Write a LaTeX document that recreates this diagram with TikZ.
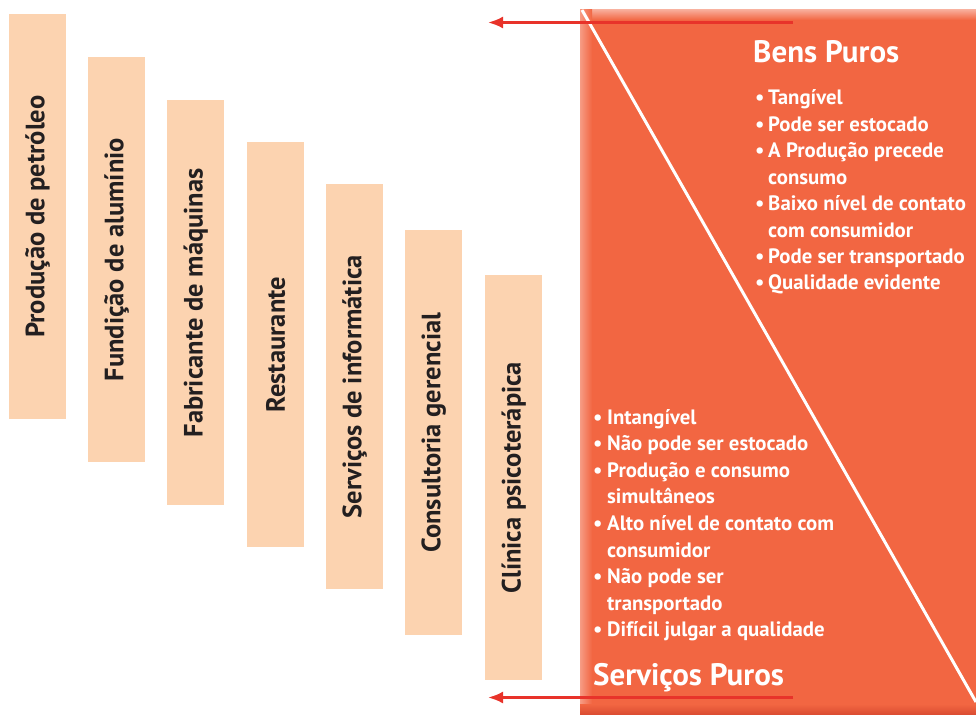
\documentclass[tikz,border=0pt]{standalone}
\usepackage{fontspec}
\setmainfont{PT Sans}
\usetikzlibrary{arrows.meta}
\definecolor{barfill}{HTML}{FCD3B0}
\definecolor{org}{HTML}{F26642}
\definecolor{arr}{HTML}{E8332A}
\definecolor{txt}{HTML}{231F20}
\tikzset{
  barbox/.style={fill=barfill, draw=none, inner sep=0pt, minimum width=57pt, minimum height=405pt, anchor=north west},
  barlabel/.style={rotate=90, text=txt, font=\bfseries\fontsize{26.5}{26.5}\selectfont, inner sep=0pt},
  arrowline/.style={draw=arr, line width=2.6pt, -{Latex[length=15pt,width=12pt]}},
  title/.style={anchor=base west, text=white, inner sep=0pt, font=\bfseries\fontsize{31}{31}\selectfont},
  item/.style={anchor=base west, text=white, inner sep=0pt, font=\bfseries\fontsize{20.8}{20.8}\selectfont},
}
\begin{document}
\begin{tikzpicture}[x=1pt,y=-1pt]
\useasboundingbox (0,0) rectangle (976,714);
% bars
\node[barbox] (b1) at (9,14) {};
\node[barbox] (b2) at (88,57) {};
\node[barbox] (b3) at (167,100) {};
\node[barbox] (b4) at (247,142) {};
\node[barbox] (b5) at (326,184) {};
\node[barbox] (b6) at (405,230) {};
\node[barbox] (b7) at (485,275) {};
\node[barlabel] (l1) at (b1.center) {Produção de petróleo};
\node[barlabel] (l2) at (b2.center) {Fundição de alumínio};
\node[barlabel] (l3) at (b3.center) {Fabricante de máquinas};
\node[barlabel] (l4) at (b4.center) {Restaurante};
\node[barlabel] (l5) at (b5.center) {Serviços de informática};
\node[barlabel] (l6) at (b6.center) {Consultoria gerencial};
\node[barlabel] (l7) at (b7.center) {Clínica psicoterápica};
% orange panel
\fill[org] (580,10) rectangle (976,714);
\shade[top color=org!55!white, bottom color=org] (580,10) rectangle (976,20);
\shade[left color=org!65!white, right color=org] (580,10) rectangle (592,714);
\shade[top color=org, bottom color=org!85!red!90!black] (580,704) rectangle (976,714);
\draw[white, line width=3pt] (582,10) -- (976,702);
% arrows
\coordinate (a1s) at (793,22.5);
\coordinate (a1e) at (488,22.5);
\coordinate (a2s) at (793,697.5);
\coordinate (a2e) at (488,697.5);
\draw[arrowline] (a1s) -- (a1e);
\draw[arrowline] (a2s) -- (a2e);
% titles
\node[title] (t1) at (753,63) {Bens Puros};
\node[title] (t2) at (593,685) {Serviços Puros};
% right list
\node[item] (r1) at (755,105) {•};
\node[item] (r1t) at (768,105) {Tangível};
\node[item] (r2) at (755,131.4) {•};
\node[item] (r2t) at (768,131.4) {Pode ser estocado};
\node[item] (r3) at (755,157.8) {•};
\node[item] (r3t) at (768,157.8) {A Produção precede};
\node[item] (r4t) at (768,184.2) {consumo};
\node[item] (r5) at (755,210.6) {•};
\node[item] (r5t) at (768,210.6) {Baixo nível de contato};
\node[item] (r6t) at (768,237) {com consumidor};
\node[item] (r7) at (755,263.4) {•};
\node[item] (r7t) at (768,263.4) {Pode ser transportado};
\node[item] (r8) at (755,289.8) {•};
\node[item] (r8t) at (768,289.8) {Qualidade evidente};
% left list
\node[item] (s1) at (593,424) {•};
\node[item] (s1t) at (607,424) {Intangível};
\node[item] (s2) at (593,450.6) {•};
\node[item] (s2t) at (607,450.6) {Não pode ser estocado};
\node[item] (s3) at (593,477.2) {•};
\node[item] (s3t) at (607,477.2) {Produção e consumo};
\node[item] (s4t) at (607,503.8) {simultâneos};
\node[item] (s5) at (593,530.4) {•};
\node[item] (s5t) at (607,530.4) {Alto nível de contato com};
\node[item] (s6t) at (607,557) {consumidor};
\node[item] (s7) at (593,583.6) {•};
\node[item] (s7t) at (607,583.6) {Não pode ser};
\node[item] (s8t) at (607,610.2) {transportado};
\node[item] (s9) at (593,636.8) {•};
\node[item] (s9t) at (607,636.8) {Difícil julgar a qualidade};
\end{tikzpicture}
\end{document}
